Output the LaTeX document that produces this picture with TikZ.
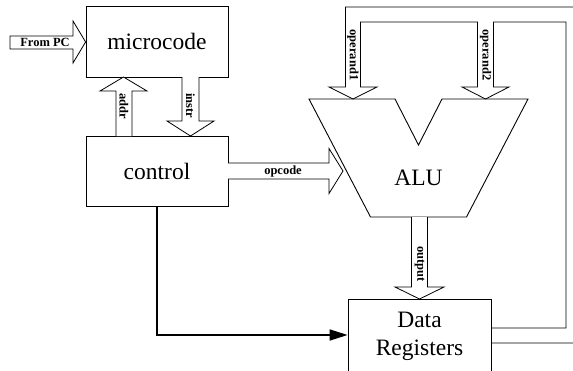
\documentclass[tikz,border=0pt]{standalone}
\usepackage{fontspec}
\setmainfont{Liberation Serif}
\usetikzlibrary{arrows.meta}
\begin{document}
\begin{tikzpicture}[x=1pt,y=-1pt,
  box/.style={draw,line width=0.8pt,inner sep=0pt},
  big/.style={font=\fontsize{23.5}{28}\selectfont},
  lab/.style={font=\bfseries\fontsize{12.5}{14}\selectfont,inner sep=0pt},
  vlab/.style={lab,rotate=-90},
  barrow/.style={draw,line width=0.8pt,line join=miter,fill=white},
  ctlline/.style={line width=1.6pt,-{Triangle[length=18pt,width=11pt]}}]
\useasboundingbox (0,0) rectangle (573,370);
\clip (0,0) rectangle (573,370);
% boxes
\node[box,minimum width=142pt,minimum height=71pt,big] (mc) at (157,41.5) {microcode};
\node[box,minimum width=142pt,minimum height=70pt,big] (ctl) at (157,171) {control};
\node[box,minimum width=143pt,minimum height=100pt] (dr) at (419.5,349) {};
\node[big,align=center] (drlabel) at (419.5,336) {Data\\Registers};
% ALU
\draw[line width=0.9pt,line join=miter] (309,99) -- (395,99) -- (418.5,145) -- (442,99) -- (528,99) -- (466.5,217) -- (370.5,217) -- cycle;
\node[big] (alu) at (418.5,178) {ALU};
% From PC
\draw[barrow] (10,36) -- (73,36) -- (73,21) -- (mc.west |- 0,42) -- (73,63) -- (73,49) -- (10,49) -- cycle;
\node[lab] (frompc) at (45,42.5) {From PC};
% addr (up)
\draw[barrow] (116,136) -- (116,91) -- (100,91) -- (123.5,77) -- (147,91) -- (132,91) -- (132,136);
\node[vlab] (addr) at (124,106) {addr};
% instr (down)
\draw[barrow] (182,77) -- (182,121) -- (167,121) -- (190.5,136) -- (214,121) -- (199,121) -- (199,77);
\node[vlab] (instr) at (190.5,106) {instr};
% opcode (right)
\draw[barrow] (228,163) -- (329,163) -- (329,148.5) -- (343,171) -- (329,193.5) -- (329,179) -- (228,179);
\node[lab] (opcode) at (283,171) {opcode};
% output (down)
\draw[barrow] (411.5,217) -- (411.5,287) -- (395,287) -- (419.5,299) -- (444,287) -- (427.5,287) -- (427.5,217);
\node[vlab] (output) at (419.5,264) {output};
% feedback bus to operands
\draw[line width=0.8pt,line join=miter] (dr.east |- 0,343) -- (600,343) -- (600,7) -- (345.5,7) -- (345.5,87) -- (329,87) -- (353,99) -- (377,87) -- (360.5,87) -- (360.5,22) -- (477.5,22) -- (477.5,87) -- (462,87) -- (485.5,99) -- (509,87) -- (493.5,87) -- (493.5,22) -- (566,22) -- (566,328) -- (dr.east |- 0,328);
\node[vlab] (op1) at (353,55) {operand1};
\node[vlab] (op2) at (485.5,55) {operand2};
% control line
\draw[ctlline] (ctl.south) |- (dr.west |- 0,335);
\end{tikzpicture}
\end{document}
